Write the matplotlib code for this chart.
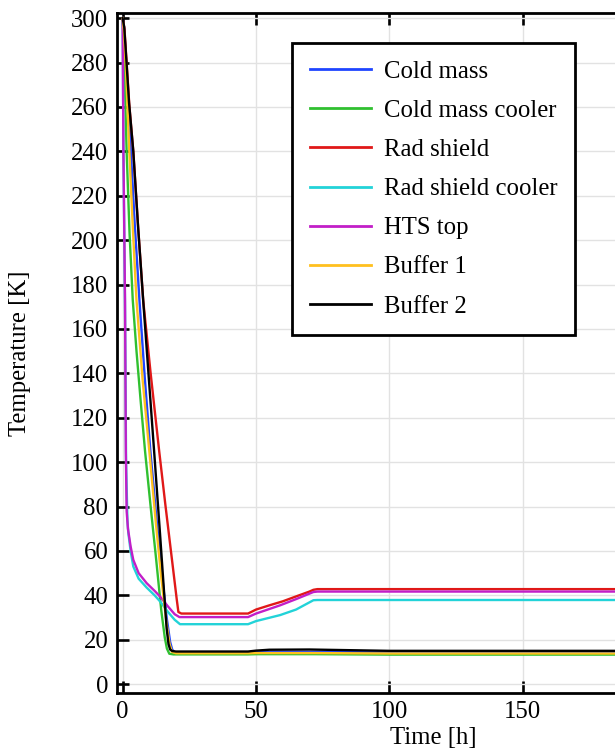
import matplotlib.pyplot as plt

plt.rcParams['font.family'] = ['Liberation Serif', 'DejaVu Serif']
plt.rcParams['font.size'] = 17.8

# cooldown curves, time [h] / temperature [K]
t_cold_mass = [0, 0.5, 1.2, 2.0, 3.1, 4.5, 6.3, 8.3, 10.4, 12.5, 14.5, 16.5, 17.8, 18.6, 19.5, 21, 47, 50, 60, 72, 100, 200]
T_cold_mass = [300, 296, 283, 264, 240, 208, 173, 138, 105, 77, 52, 30, 19, 15.5, 14.4, 14.2, 14.2, 14.4, 14.5, 14.5, 14.3, 14.2]

t_cm_cooler = [0, 0.4, 0.9, 1.5, 2.6, 3.8, 5.2, 6.8, 8.4, 10.5, 12.5, 14.5, 15.8, 16.6, 17.5, 19, 47, 50, 72, 100, 200]
T_cm_cooler = [300, 290, 268, 240, 203, 173, 150, 127, 105, 80, 57, 33, 21, 16, 13.7, 13.4, 13.4, 13.5, 13.5, 13.3, 13.3]

t_rad_shield = [0, 0.7, 1.5, 2.5, 4, 5.8, 7.7, 10.5, 13.7, 16, 18.5, 20.3, 20.9, 22, 47, 50, 55, 60, 65.2, 70, 71.5, 73, 200]
T_rad_shield = [300, 295, 280, 261, 240, 206, 173, 140, 105, 81, 56, 38, 32.5, 31.8, 31.8, 33.6, 35.5, 37.3, 39.6, 41.7, 42.5, 42.8, 42.8]

t_rs_cooler = [0, 0.3, 0.9, 1.3, 1.8, 2.1, 3, 4, 6, 9, 12, 14, 17, 19.5, 21.5, 47, 50, 59, 65, 71.5, 73, 200]
T_rs_cooler = [300, 240, 170, 100, 74, 68.5, 60, 53, 47.5, 43.5, 40, 37.3, 32.5, 29, 27, 27, 28.4, 31.1, 33.6, 37.8, 37.9, 37.9]

t_hts_top = [0, 0.3, 0.9, 1.2, 1.5, 2, 3, 4, 6, 9, 12, 14, 17, 19.5, 21.3, 47, 50, 59, 65, 71.5, 73, 200]
T_hts_top = [300, 240, 173, 105, 78, 70, 62, 56, 50, 45.5, 42, 39.5, 35, 31.5, 30.2, 30.2, 31.8, 35.5, 38.3, 41.5, 41.7, 41.7]

t_buffer1 = [0, 0.5, 1.3, 2.5, 3.8, 5.2, 7.5, 10, 12.5, 14.5, 16.5, 17.6, 18.5, 20, 47, 50, 72, 100, 200]
T_buffer1 = [300, 294, 276, 240, 206, 173, 137, 105, 72, 48, 27, 18, 14.5, 13.9, 13.9, 14.0, 14.0, 13.8, 13.8]

t_buffer2 = [0, 0.6, 1.3, 2.4, 4, 5.8, 7.7, 9.8, 11.8, 14, 15.5, 16.5, 17.2, 17.8, 18.6, 20, 47, 50, 55, 70, 85, 100, 200]
T_buffer2 = [300, 296, 283, 262, 240, 206, 173, 138, 105, 68, 42, 25, 18, 15.6, 14.9, 14.7, 14.7, 15.1, 15.5, 15.6, 15.3, 15.0, 15.0]

series = [
    ('Cold mass', t_cold_mass, T_cold_mass, '#1f45ff'),
    ('Cold mass cooler', t_cm_cooler, T_cm_cooler, '#30c030'),
    ('Rad shield', t_rad_shield, T_rad_shield, '#e01818'),
    ('Rad shield cooler', t_rs_cooler, T_rs_cooler, '#22d3d8'),
    ('HTS top', t_hts_top, T_hts_top, '#c21ec8'),
    ('Buffer 1', t_buffer1, T_buffer1, '#ffc01e'),
    ('Buffer 2', t_buffer2, T_buffer2, 'black'),
]

fig = plt.figure(figsize=(6.15, 7.48), dpi=100)
ax = fig.add_axes([0.1907, 0.0735, 0.985, 0.9091])

for name, t, T, c in series:
    ax.plot(t, T, color=c, lw=1.7, label=name)

ax.set_xlim(-2, 225)
ax.set_ylim(-4, 302.3)
ax.set_xticks([0, 50, 100, 150])
ax.set_yticks(range(0, 301, 20))
ax.grid(True, color='#e2e2e2', lw=1.0)
ax.set_axisbelow(True)

for s in ax.spines.values():
    s.set_linewidth(2.0)
ax.tick_params(axis='both', direction='in', length=8.5, width=1.9, top=True)
ax.tick_params(axis='y', pad=6.5)
ax.tick_params(axis='x', pad=6)

fig.text(20 / 615, 1 - 353 / 748, 'Temperature [K]', rotation=90, ha='center', va='center')
fig.text(433 / 615, 1 - 738 / 748, 'Time [h]', ha='center', va='center')

leg = ax.legend(loc='upper left', bbox_to_anchor=(292.3 / 615, 1 - 42.7 / 748),
                bbox_transform=fig.transFigure, borderaxespad=0, borderpad=0.72,
                handlelength=2.45, handletextpad=0.52, labelspacing=0.68,
                fancybox=False, framealpha=1, edgecolor='black')
leg.get_frame().set_linewidth(2.0)
for h in leg.get_lines():
    h.set_linewidth(2.0)

fig.savefig('out.png', dpi=100)
